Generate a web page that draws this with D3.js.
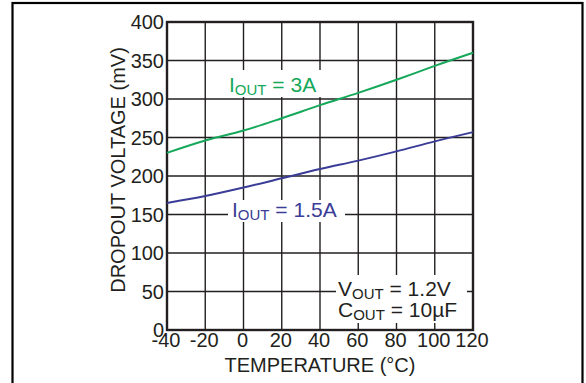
<!DOCTYPE html>
<html>
<head>
<meta charset="utf-8">
<script src="https://cdn.jsdelivr.net/npm/d3@7"></script>
<style>
  html, body { margin: 0; padding: 0; background: #fff; }
  svg { display: block; font-family: "Liberation Sans", Arial, sans-serif; }
</style>
</head>
<body>
<svg id="chart" width="586" height="383"></svg>
<script>
// temperature (°C) at which the curves were read
var temps = [-40, -20, 0, 20, 40, 60, 80, 100, 120];
// dropout voltage (mV), IOUT = 3A
var drop3A = [230, 246, 259, 275, 292, 308, 325, 343, 360];
// dropout voltage (mV), IOUT = 1.5A
var drop15A = [165, 174, 185, 197, 209, 220, 232, 245, 257];

var xTicks = [-40, -20, 0, 20, 40, 60, 80, 100, 120];
var yTicks = [0, 50, 100, 150, 200, 250, 300, 350, 400];

(function () {
    'use strict';

    var svg = d3.select('#chart');
    var ink = '#231f20';
    var green = '#16a85a';
    var blue = '#3a3c98';

    var left = 167, right = 473, top = 22, bottom = 330;

    var x = d3.scaleLinear().domain([-40, 120]).range([left, right]);
    var y = d3.scaleLinear().domain([0, 400]).range([bottom, top]);

    // outer frame, running off the right/bottom like the original crop
    svg.append('rect')
        .attr('x', 12.5).attr('y', 3)
        .attr('width', 570).attr('height', 400)
        .attr('fill', 'none').attr('stroke', '#000').attr('stroke-width', 2.2);

    // grid
    var grid = svg.append('g');
    grid.selectAll('line.v').data(xTicks).join('line')
        .attr('class', 'v')
        .attr('x1', function (d) { return x(d); }).attr('x2', function (d) { return x(d); })
        .attr('y1', top).attr('y2', bottom)
        .attr('stroke', ink).attr('stroke-width', 1.4);
    grid.selectAll('line.h').data(yTicks).join('line')
        .attr('class', 'h')
        .attr('y1', function (d) { return y(d); }).attr('y2', function (d) { return y(d); })
        .attr('x1', left).attr('x2', right)
        .attr('stroke', ink).attr('stroke-width', 1.4);

    // white patches behind the in-plot labels
    var masks = [
        [226, 70, 96, 27],
        [228, 200, 117, 22],
        [336, 275, 131, 48]
    ];
    svg.append('g').selectAll('rect').data(masks).join('rect')
        .attr('x', function (d) { return d[0]; }).attr('y', function (d) { return d[1]; })
        .attr('width', function (d) { return d[2]; }).attr('height', function (d) { return d[3]; })
        .attr('fill', '#fff');

    // plot border
    svg.append('rect')
        .attr('x', left).attr('y', top)
        .attr('width', right - left).attr('height', bottom - top)
        .attr('fill', 'none').attr('stroke', ink).attr('stroke-width', 2.4);

    // curves
    var line = d3.line()
        .x(function (d) { return x(d[0]); })
        .y(function (d) { return y(d[1]); })
        .curve(d3.curveMonotoneX);

    svg.append('path')
        .attr('d', line(d3.zip(temps, drop3A)))
        .attr('fill', 'none').attr('stroke', green).attr('stroke-width', 2);
    svg.append('path')
        .attr('d', line(d3.zip(temps, drop15A)))
        .attr('fill', 'none').attr('stroke', blue).attr('stroke-width', 2);

    // tick labels
    svg.append('g').selectAll('text').data(yTicks).join('text')
        .attr('x', left - 3)
        .attr('y', function (d) { return y(d) + 7; })
        .attr('text-anchor', 'end')
        .attr('font-size', 20).attr('fill', ink)
        .text(function (d) { return d; });

    svg.append('g').selectAll('text').data(xTicks).join('text')
        .attr('x', function (d) { return x(d) - 1; })
        .attr('y', bottom + 17)
        .attr('text-anchor', 'middle')
        .attr('font-size', 20).attr('fill', ink)
        .text(function (d) { return d; });

    // axis titles
    svg.append('text')
        .attr('x', (left + right) / 2).attr('y', 372)
        .attr('text-anchor', 'middle')
        .attr('font-size', 20).attr('fill', ink)
        .text('TEMPERATURE (°C)');

    svg.append('text')
        .attr('transform', 'translate(125,170) rotate(-90)')
        .attr('text-anchor', 'middle')
        .attr('font-size', 20).attr('fill', ink)
        .text('DROPOUT VOLTAGE (mV)');

    // label with subscript "OUT"
    function subLabel(px, py, head, tail, color) {
        var t = svg.append('text')
            .attr('x', px).attr('y', py)
            .attr('font-size', 21).attr('fill', color);
        t.append('tspan').text(head);
        t.append('tspan').attr('font-size', 15).attr('dy', 3).text('OUT');
        t.append('tspan').attr('dy', -3).text(tail);
    }

    subLabel(229, 92, 'I', ' = 3A', green);
    subLabel(232, 217, 'I', ' = 1.5A', blue);
    subLabel(338, 296, 'V', ' = 1.2V', ink);
    subLabel(338, 317, 'C', ' = 10µF', ink);
})();
</script>
</body>
</html>
